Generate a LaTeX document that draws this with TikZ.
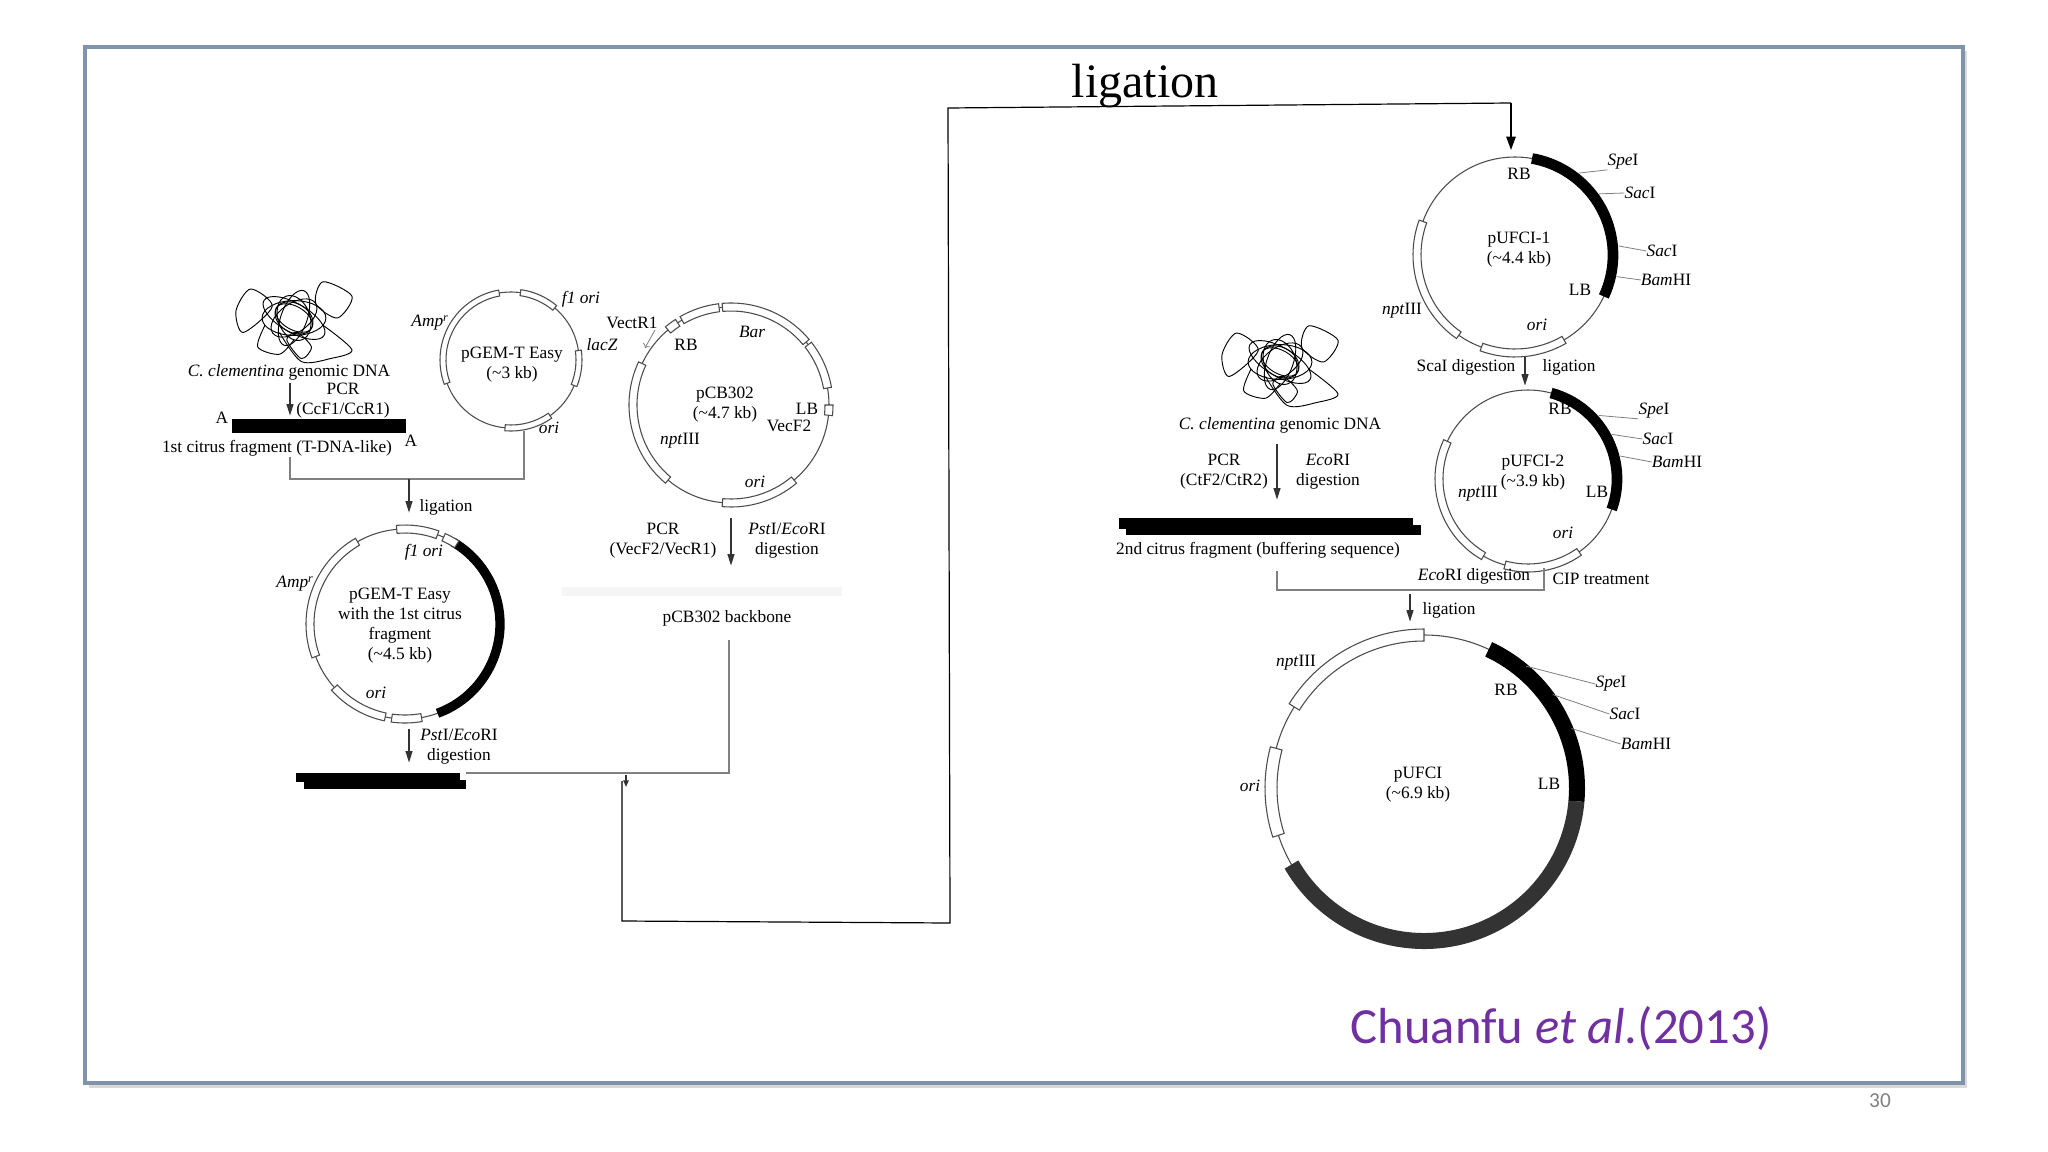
\documentclass[tikz,border=0pt]{standalone}
\usepackage{fontspec}
\setmainfont{Liberation Serif}
\newfontfamily\citefont{Carlito}
\usetikzlibrary{arrows.meta}
\definecolor{framecol}{HTML}{7F93AD}
\definecolor{citecol}{HTML}{7030A0}
\newcommand\parc[6]{\draw[#6] (#1,#2) ++(-#4:#3) arc[start angle=-#4,end angle=-#5,radius=#3];}
\newcommand\gbox[6]{\draw[gray!60!black,fill=white,line width=0.8] ([shift={(#1,#2)}]-#4:#3+#6) arc[start angle=-#4,end angle=-#5,radius=#3+#6] -- ([shift={(#1,#2)}]-#5:#3-#6) arc[start angle=-#5,end angle=-#4,radius=#3-#6] -- cycle;}
\newcommand\tick[5]{\draw[gray,line width=0.6] ([shift={(#1,#2)}]-#4:#3+6) -- (#5);}
\newcommand\tangle[2]{\begin{scope}[shift={(#1,#2)},scale=1.45,black,line width=0.7]
\foreach \a/\rx/\ry in {0/22/12,35/18/10,70/20/9,110/16/11,150/24/10,-30/14/8,60/10/14}
  \draw[rotate=\a] (0,0) ellipse[x radius=\rx,y radius=\ry];
\draw plot[smooth cycle] coordinates {(-40,-5)(-30,-20)(-15,-8)(-35,10)};
\draw plot[smooth cycle] coordinates {(20,-25)(40,-15)(30,0)(15,-10)};
\draw plot[smooth] coordinates {(-10,10)(5,30)(25,28)(40,22)(20,5)};
\draw plot[smooth cycle] coordinates {(-5,15)(5,28)(12,20)(2,10)};
\draw plot[smooth] coordinates {(-20,5)(-25,20)(-10,25)(0,15)};
\end{scope}}
\tikzset{lbl/.style={font=\fontsize{13}{15}\selectfont,inner sep=0,align=center},
 it/.style={lbl,font=\fontsize{13}{15}\selectfont\itshape},
 circ/.style={gray!60!black,line width=0.8},
 arr/.style={-{Triangle[length=9,width=5]},gray!40!black,line width=1.6},
 conn/.style={gray,line width=1},
 bar/.style={fill=black,draw=none}}
\begin{document}
\begin{tikzpicture}[x=0.75pt,y=-0.75pt]
\path[fill=white] (0,0) rectangle (2048,1152);
% frame
\fill[gray!30] (89,51) rectangle (1967,1088);
\draw[framecol,line width=2.5,fill=white] (85,47) rectangle (1963,1083);
\node[text=gray,font=\citefont\fontsize{16}{18}\selectfont] (pg) at (1880,1101) {30};
\node[text=citecol,font=\citefont\fontsize{38}{44}\selectfont] (cite) at (1561,1028) {Chuanfu \textit{et al.}(2013)};
\node[font=\fontsize{36}{40}\selectfont] (lig) at (1145,86) {ligation};
% long connector
\coordinate (c1) at (622,781); \coordinate (c2) at (622,921); \coordinate (c3) at (950,923);
\coordinate (c4) at (948,108); \coordinate (c5) at (1511,103); \coordinate (c6) at (1511,150);
\draw[black,line width=0.9] (c1) -- (c2) -- (c3) -- (c4) -- (c5);
\draw[-{Triangle[length=10,width=7]},black,line width=1.2] (c5) -- (c6);

% ---------- left panel ----------
\tangle{294}{318}
\node[lbl] (gd1) at (289,372) {\textit{C. clementina} genomic DNA};
\draw[arr] (290,383) -- (290,416);
\node[lbl] (pcr1) at (343,401) {PCR\\(CcF1/CcR1)};
\fill[bar] (232,419) rectangle (406,433);
\node[lbl] (A1) at (222,418) {A};
\node[lbl] (A2) at (411,441) {A};
\node[lbl] (frag1) at (277,448) {1st citrus fragment (T-DNA-like)};
\draw[conn] (290,457) -- (290,479) -- (524,479) -- (524,431);
\draw[arr] (409,479) -- (409,513);
\node[lbl] (lig1) at (446,507) {ligation};

% pGEM-T Easy
\draw[circ] (511,360) circle[radius=68];
\gbox{511}{360}{68}{100}{200}{3}
\gbox{511}{360}{68}{50}{82}{3}
\gbox{511}{360}{68}{-22}{8}{3}
\gbox{511}{360}{68}{-95}{-55}{3}
\node[it] at (581,299) {f1 ori};
\node[it] at (430,323) {Amp\textsuperscript{r}};
\node[it] at (602,345) {lacZ};
\node[lbl] (pgem) at (512,365) {pGEM-T Easy\\(\textasciitilde3 kb)};
\node[it] at (549,428) {ori};

% pCB302
\draw[circ] (731,405) circle[radius=98];
\gbox{731}{405}{98}{40}{95}{4}
\gbox{731}{405}{98}{97}{120}{4}
\gbox{731}{405}{98}{123}{130}{4}
\gbox{731}{405}{98}{10}{38}{4}
\gbox{731}{405}{98}{-6}{0}{4}
\gbox{731}{405}{98}{155}{230}{4}
\gbox{731}{405}{98}{-95}{-50}{4}
\node[lbl] at (632,323) {VectR1};
\draw[->,gray,line width=0.6] (655,330) -- (645,348);
\node[lbl] at (686,345) {RB};
\node[it] at (752,332) {Bar};
\node[lbl] (pcb) at (725,405) {pCB302\\(\textasciitilde4.7 kb)};
\node[lbl] at (807,409) {LB};
\node[lbl] at (789,426) {VecF2};
\node[lbl] at (680,441) {\textit{npt}III};
\node[it] at (755,482) {ori};
\draw[arr] (731,518) -- (731,566);
\node[lbl] (pcr2) at (663,541) {PCR\\(VecF2/VecR1)};
\node[lbl] (dig2) at (787,541) {\textit{Pst}I/\textit{Eco}RI\\digestion};
\fill[gray!8] (562,587) rectangle (842,596);
\node[lbl] (bb) at (727,618) {pCB302 backbone};
\draw[conn] (729,640) -- (729,773) -- (466,773);
\draw[-{Triangle[length=5,width=4]},gray!40!black,line width=1.2] (626,775) -- (626,787);

% pGEM with fragment
\draw[circ] (405,624) circle[radius=95];
\parc{405}{624}{95}{60}{-70}{line width=7,black}
\gbox{405}{624}{95}{70}{95}{4}
\gbox{405}{624}{95}{57}{66}{4}
\gbox{405}{624}{95}{120}{200}{4}
\gbox{405}{624}{95}{222}{258}{4}
\gbox{405}{624}{95}{262}{280}{4}
\node[it] at (424,552) {f1 ori};
\node[it] at (295,584) {Amp\textsuperscript{r}};
\node[lbl] (pgem2) at (400,626) {pGEM-T Easy\\with the 1st citrus\\fragment\\(\textasciitilde4.5 kb)};
\node[it] at (376,693) {ori};
\draw[arr] (409,729) -- (409,763);
\node[lbl] (dig1) at (459,747) {\textit{Pst}I/\textit{Eco}RI\\digestion};
\fill[bar] (296,773) rectangle (460,782);
\fill[bar] (304,780) rectangle (466,789);

% ---------- right panel ----------
% pUFCI-1
\draw[circ] (1515,255) circle[radius=98];
\parc{1515}{255}{98}{80}{-25}{line width=8,black}
\gbox{1515}{255}{98}{160}{235}{4}
\gbox{1515}{255}{98}{250}{300}{4}
\node[lbl] at (1519,174) {RB};
\node[it] (s1) at (1623,162) {Spe\upshape I};
\node[it] (s2) at (1640,193) {Sac\upshape I};
\node[it] (s3) at (1662,251) {Sac\upshape I};
\node[it] (s4) at (1666,280) {Bam\upshape HI};
\tick{1515}{255}{98}{52}{s1.south west}
\tick{1515}{255}{98}{36}{s2.west}
\tick{1515}{255}{98}{5}{s3.west}
\tick{1515}{255}{98}{-12}{s4.west}
\node[lbl] (pu1) at (1519,250) {pUFCI-1\\(\textasciitilde4.4 kb)};
\node[lbl] at (1580,290) {LB};
\node[lbl] at (1402,311) {\textit{npt}III};
\node[it] at (1537,325) {ori};
\node[lbl] at (1466,367) {ScaI digestion};
\draw[arr] (1525,357) -- (1525,386);
\node[lbl] at (1569,367) {ligation};

% pUFCI-2
\draw[circ] (1528,479) circle[radius=89];
\parc{1528}{479}{89}{75}{-20}{line width=8,black}
\gbox{1528}{479}{89}{155}{240}{4}
\gbox{1528}{479}{89}{255}{305}{4}
\node[lbl] at (1560,409) {RB};
\node[it] (t1) at (1654,411) {Spe\upshape I};
\node[it] (t2) at (1658,439) {Sac\upshape I};
\node[it] (t3) at (1677,462) {Bam\upshape HI};
\tick{1528}{479}{89}{42}{t1.south west}
\tick{1528}{479}{89}{28}{t2.west}
\tick{1528}{479}{89}{14}{t3.west}
\node[lbl] (pu2) at (1533,473) {pUFCI-2\\(\textasciitilde3.9 kb)};
\node[lbl] at (1478,494) {\textit{npt}III};
\node[lbl] at (1597,492) {LB};
\node[it] at (1563,533) {ori};
\node[lbl] at (1474,576) {\textit{Eco}RI digestion};
\node[lbl] at (1601,579) {CIP treatment};

\tangle{1280}{362}
\node[lbl] (gd2) at (1280,425) {\textit{C. clementina} genomic DNA};
\draw[arr] (1277,444) -- (1277,500);
\node[lbl] (pcr3) at (1224,472) {PCR\\(CtF2/CtR2)};
\node[lbl] (dig3) at (1328,472) {\textit{Eco}RI\\digestion};
\fill[bar] (1119,518) rectangle (1413,529);
\fill[bar] (1126,525) rectangle (1421,535);
\node[lbl] (frag2) at (1258,550) {2nd citrus fragment (buffering sequence)};
\draw[conn] (1277,571) -- (1277,590) -- (1544,590) -- (1544,568);
\draw[arr] (1410,594) -- (1410,622);
\node[lbl] at (1449,610) {ligation};

% pUFCI
\draw[circ] (1424,788) circle[radius=153];
\parc{1424}{788}{153}{65}{-5}{line width=12,black}
\parc{1424}{788}{153}{-5}{-150}{line width=12,black!80}
\gbox{1424}{788}{153}{90}{148}{6}
\gbox{1424}{788}{153}{165}{198}{6}
\node[lbl] at (1296,663) {\textit{npt}III};
\node[lbl] at (1506,690) {RB};
\node[it] (u1) at (1611,684) {Spe\upshape I};
\node[it] (u2) at (1625,714) {Sac\upshape I};
\node[it] (u3) at (1646,744) {Bam\upshape HI};
\tick{1424}{788}{153}{50}{u1.west}
\tick{1424}{788}{153}{36}{u2.west}
\tick{1424}{788}{153}{22}{u3.west}
\node[lbl] (pu) at (1418,785) {pUFCI\\(\textasciitilde6.9 kb)};
\node[lbl] at (1549,784) {LB};
\node[it] at (1250,786) {ori};
\end{tikzpicture}
\end{document}
